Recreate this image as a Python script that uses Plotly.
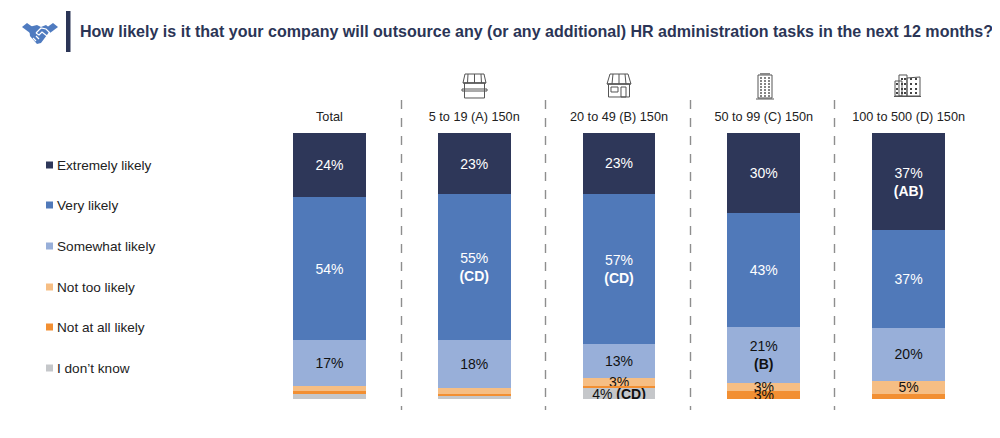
import plotly.graph_objects as go

groups = ["Total", "5 to 19 (A) 150n", "20 to 49 (B) 150n", "50 to 99 (C) 150n", "100 to 500 (D) 150n"]
responses = ["Extremely likely", "Very likely", "Somewhat likely", "Not too likely", "Not at all likely", "I don\u2019t know"]
extremely = [24, 23, 23, 30, 37]
very = [54, 55, 57, 43, 37]
somewhat = [17, 18, 13, 21, 20]
not_too = [2, 2, 3, 3, 5]
not_at_all = [1, 1, 1, 3, 2]
dont_know = [2, 1, 4, 0, 0]
series = [extremely, very, somewhat, not_too, not_at_all, dont_know]

labels = [
    ["24%", "23%", "23%", "30%", "37%<br><b>(AB)</b>"],
    ["54%", "55%<br><b>(CD)</b>", "57%<br><b>(CD)</b>", "43%", "37%"],
    ["17%", "18%", "13%", "21%<br><b>(B)</b>", "20%"],
    ["", "", "3%", "3%", "5%"],
    ["", "", "", "3%", ""],
    ["", "", "4% <b>(CD)</b>", "", ""],
]
colors = ["#2E3759", "#5079B9", "#98AFD9", "#F6BE84", "#F28F32", "#C5C7CA"]
text_colors = ["white", "white", "#111111", "#111111", "#111111", "#111111"]
title = "How likely is it that your company will outsource any (or any additional) HR administration tasks in the next 12 months?"
FONT = "Liberation Sans, Arial, sans-serif"

# The page body has an 8px margin, so the figure's origin sits at (8, 8).
OFF = 8
W, H = 1000, 438 - OFF
L, R, T, B = 257, 981, 133, 399


def px(x):
    return (x - L) / (R - L)


def py(y):
    return (B - y) / (B - T)


def path(points, close=True):
    s = "M" + " L".join(f"{px(x):.5f},{py(y):.5f}" for x, y in points)
    return s + (" Z" if close else "")


def poly(points, fill=None, line=None, width=1, close=True):
    return dict(type="path", xref="paper", yref="paper", path=path(points, close),
                fillcolor=fill or "rgba(0,0,0,0)",
                line=dict(color=line or "rgba(0,0,0,0)", width=width if line else 0))


def rect(x0, y0, x1, y1, fill=None, line=None, width=1):
    return poly([(x0, y0), (x1, y0), (x1, y1), (x0, y1)], fill, line, width)


fig = go.Figure()
for name, vals, txt, col, tc in zip(responses, series, labels, colors, text_colors):
    fig.add_trace(go.Bar(
        x=groups, y=vals, name=name, marker=dict(color=col, line=dict(width=0)),
        text=txt, textposition="inside", insidetextanchor="middle", textangle=0,
        constraintext="none", insidetextfont=dict(color=tc, size=14, family=FONT),
        hoverinfo="skip", showlegend=False,
    ))

shapes = [rect(66, 11, 70.5, 52, fill="#2B3556")]
annotations = [dict(
    text=f"<b>{title}</b>", xref="paper", yref="paper", x=px(78), y=py(31),
    xanchor="left", yanchor="middle", showarrow=False,
    font=dict(size=16.05, color="#2B3556", family=FONT),
)]

# legend keys
legend_y = [165, 205, 246, 287, 327, 368]
for name, col, y in zip(responses, colors, legend_y):
    shapes.append(rect(46, y - 3.5, 53, y + 3.5, fill=col))
    annotations.append(dict(
        text=name, xref="paper", yref="paper", x=px(55), y=py(y),
        xanchor="left", yanchor="middle", showarrow=False,
        font=dict(size=13.6, color="#222222", family=FONT),
    ))

# dashed separators
for x in [401.5, 545.5, 690.5, 834.5]:
    shapes.append(dict(type="line", xref="paper", yref="paper", x0=px(x), x1=px(x),
                       y0=py(100), y1=py(410), line=dict(color="#8E8E8E", width=1.4, dash="dash")))

# handshake icon
blue = "#4F7BC0"
shapes += [
    poly([(22, 27), (27, 23), (34, 28), (30, 33)], fill=blue),
    poly([(58, 27), (53, 23), (46, 28), (50, 33)], fill=blue),
    poly([(29, 27), (37, 25), (41, 27), (46, 25), (51, 29), (47, 35), (41, 43), (37, 44), (30, 36)], fill=blue),
    poly([(36, 33), (41, 28), (46, 29), (50, 33)], line="white", width=1.2, close=False),
    poly([(36, 33), (39, 35), (42, 32), (47, 36)], line="white", width=1.2, close=False),
    poly([(33, 38), (36, 41)], line="white", width=1.2, close=False),
    poly([(36, 36), (39, 39)], line="white", width=1.2, close=False),
]

# group icons
g = "#555555"
# stall (A)
shapes += [
    poly([(463, 83), (465, 74), (484, 74), (486, 83)], line=g, width=1),
    poly([(463, 83), (486, 83)], line=g, width=1, close=False),
    poly([(468, 74), (467.5, 83)], line=g, width=1, close=False),
    poly([(474.5, 74), (474.5, 83)], line=g, width=1, close=False),
    poly([(481, 74), (481.5, 83)], line=g, width=1, close=False),
    rect(464.5, 83, 484.5, 98, line=g, width=1),
    rect(462, 89, 487, 91, line=g, width=1),
]
# shop (B)
shapes += [
    poly([(607, 84), (610, 74), (628, 74), (631, 84)], line=g, width=1),
    poly([(607, 84), (631, 84)], line=g, width=1, close=False),
    poly([(613, 74), (612, 84)], line=g, width=1, close=False),
    poly([(619, 74), (619, 84)], line=g, width=1, close=False),
    poly([(625, 74), (626, 84)], line=g, width=1, close=False),
    rect(608.5, 84, 629.5, 97, line=g, width=1),
    rect(611, 87, 618, 92, line=g, width=1),
    rect(621, 87, 626, 97, line=g, width=1),
]
# tower (C)
shapes += [
    rect(758, 75, 772, 98, line=g, width=1),
    rect(760, 73, 770, 75, fill="#888888"),
    poly([(756, 99), (774, 99)], line=g, width=1, close=False),
]
for cx in [761, 765, 769]:
    for cy in [78, 81, 84, 87, 90, 93, 96]:
        shapes.append(rect(cx - 0.8, cy - 0.8, cx + 0.8, cy + 0.8, fill="#333333"))
# offices (D)
shapes += [
    rect(895, 81, 902, 96, line=g, width=1),
    rect(899, 75, 907, 96, line=g, width=1),
    poly([(907, 78), (920, 77), (920, 96), (907, 96)], line=g, width=1),
    poly([(894, 96.5), (921, 96.5)], line=g, width=1, close=False),
]
for cx in [897, 902, 905, 911, 916]:
    for cy in [79, 84, 89, 93]:
        if cx == 897 and cy < 84:
            continue
        shapes.append(rect(cx - 1, cy - 1, cx + 1, cy + 1, fill="#444444"))

fig.update_layout(
    width=W, height=H, barmode="stack", barnorm="percent", bargap=0.497,
    margin=dict(l=L - OFF, r=W - (R - OFF), t=T - OFF, b=438 - B, pad=0),
    paper_bgcolor="white", plot_bgcolor="white",
    font=dict(family=FONT, color="#222222"),
    shapes=shapes, annotations=annotations, showlegend=False,
    xaxis=dict(type="category", categoryorder="array", categoryarray=groups, side="top",
               showline=False, showgrid=False, ticks="", ticklen=0, ticklabelstandoff=8,
               tickfont=dict(size=12.7, color="#222222", family=FONT)),
    yaxis=dict(range=[100, 0], visible=False, showgrid=False, zeroline=False),
)
fig.write_html("out.html")
